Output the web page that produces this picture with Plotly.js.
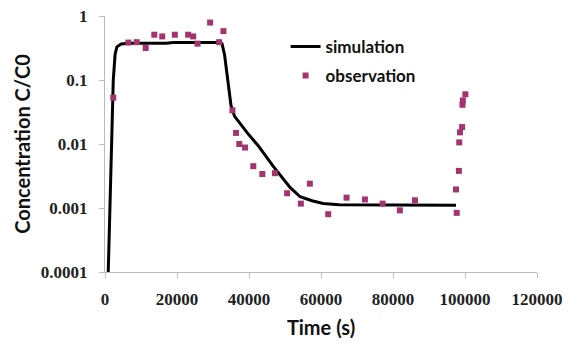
<!DOCTYPE html>
<html>
<head>
<meta charset="utf-8">
<script src="https://cdn.plot.ly/plotly-3.0.1.min.js"></script>
<style>
html,body{margin:0;padding:0;background:#fff;}
#chart{width:577px;height:345px;}
</style>
</head>
<body>
<div id="chart"></div>
<script>
// Simulation curve (time in s, C/C0)
var simTime = [900, 1400, 1700, 2300, 2800, 3300, 4500, 6500, 17000, 19000, 31500, 32500, 33200, 34000, 35000, 36000, 37500, 39700, 42500, 46700, 51400, 54200, 57500, 60600, 65000, 97500];
var simConc = [0.0001, 0.001, 0.01, 0.1, 0.25, 0.33, 0.365, 0.375, 0.375, 0.385, 0.385, 0.37, 0.25, 0.1, 0.04, 0.027, 0.021, 0.0145, 0.0095, 0.0045, 0.0021, 0.0015, 0.0013, 0.00118, 0.00112, 0.0011];

// Observations
var obsTime = [2300, 6500, 8800, 11300, 13700, 15900, 19400, 23100, 24500, 25700, 29200, 31700, 32900, 35400, 36400, 37300, 38900, 41200, 43700, 47200, 50600, 54400, 56900, 62000, 67100, 72200, 77100, 81900, 86100, 97700, 97500, 98300, 98400, 98600, 99200, 99300, 99400, 100100];
var obsConc = [0.053, 0.384, 0.39, 0.316, 0.51, 0.48, 0.51, 0.51, 0.48, 0.37, 0.79, 0.39, 0.58, 0.0336, 0.0149, 0.01, 0.0088, 0.0045, 0.0034, 0.0035, 0.0017, 0.00117, 0.0024, 0.0008, 0.00145, 0.00136, 0.00117, 0.00092, 0.00132, 0.00084, 0.00195, 0.0038, 0.0106, 0.0152, 0.0184, 0.041, 0.048, 0.0598];

var yTickVals = [0.0001, 0.001, 0.01, 0.1, 1];
var yTickText = ['0.0001', '0.001', '0.01', '0.1', '1'];
var xTickVals = [0, 20000, 40000, 60000, 80000, 100000, 120000];
var xTickText = ['0', '20000', '40000', '60000', '80000', '100000', '120000'];

var tickFont = {family: 'Liberation Serif', size: 17, color: '#222', weight: 'bold'};
var titleFont = {family: 'Lato', size: 20, color: '#111', weight: 'bold'};
var legendFont = {family: 'Lato', size: 17, color: '#111', weight: 'bold'};

var traces = [
  {
    x: simTime, y: simConc, name: 'simulation', type: 'scatter', mode: 'lines',
    line: {color: '#000', width: 3}, legend: 'legend'
  },
  {
    x: obsTime, y: obsConc, name: 'observation', type: 'scatter', mode: 'markers',
    marker: {symbol: 'square', size: 6, color: '#a3346f'}, legend: 'legend2'
  }
];

var layout = {
  width: 577, height: 345,
  margin: {l: 105, r: 40, t: 16, b: 73},
  paper_bgcolor: '#fff', plot_bgcolor: '#fff',
  showlegend: true,
  legend: {
    x: 0.418, y: 0.879, xanchor: 'left', yanchor: 'middle',
    font: legendFont, bgcolor: 'rgba(0,0,0,0)', itemwidth: 30
  },
  legend2: {
    x: 0.418, y: 0.766, xanchor: 'left', yanchor: 'middle',
    font: legendFont, bgcolor: 'rgba(0,0,0,0)', itemwidth: 30
  },
  xaxis: {
    range: [0, 120000], tickvals: xTickVals, ticktext: xTickText,
    showgrid: false, zeroline: false, showline: true, linecolor: '#bbb', linewidth: 1,
    ticks: 'outside', ticklen: 5, tickcolor: '#bbb', ticklabelstandoff: 7,
    tickfont: tickFont,
    title: {text: 'Time (s)', font: titleFont, standoff: 12}
  },
  yaxis: {
    type: 'log', range: [-4, 0], tickvals: yTickVals, ticktext: yTickText,
    showgrid: false, zeroline: false, showline: true, linecolor: '#bbb', linewidth: 1,
    ticks: 'outside', ticklen: 5, tickcolor: '#bbb', ticklabelstandoff: 8,
    tickfont: tickFont,
    title: {text: 'Concentration C/C0', font: titleFont, standoff: 4}
  }
};

Plotly.newPlot('chart', traces, layout, {displayModeBar: false, staticPlot: true});
</script>
</body>
</html>
